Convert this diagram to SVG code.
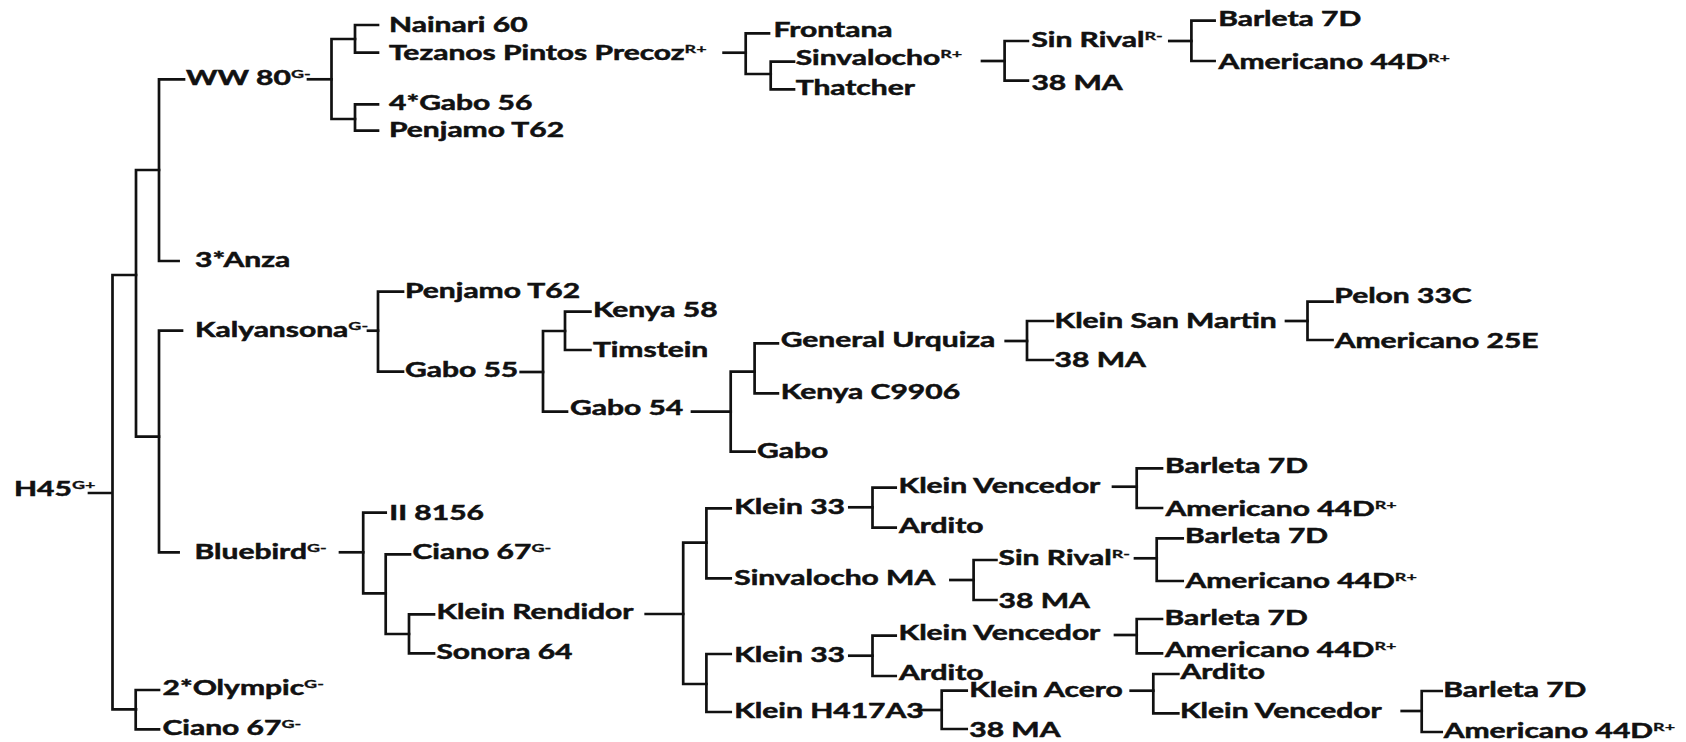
<svg xmlns="http://www.w3.org/2000/svg" width="1686" height="742" viewBox="0 0 1686 742">
<style>
text{font-family:Lato,"Open Sans","Liberation Sans",sans-serif;font-weight:700;font-size:20px;fill:#111;stroke:#111;stroke-width:0.5;transform-box:fill-box;transform-origin:0 0;transform:scaleX(1.5)}
.s{font-size:12px;stroke-width:0.3}
.c path{fill:none;stroke:#111;stroke-width:2.7;stroke-linecap:square}
</style>
<rect width="1686" height="742" fill="#fff"/>
<g class="c" id="connectors">
<path d="M89 493H112.5M136 275H112.5V709.3H136"/>
<path d="M159 170H136V436.7H159"/>
<path d="M184 79.3H159V261H178.6"/>
<path d="M182 330.7H159V552.3H178.6"/>
<path d="M159 690H135.7V729.3H159"/>
<path d="M308 79.3H331.5"/>
<path d="M355 39H331.5V119H355"/>
<path d="M378 25H355V52.7H378"/>
<path d="M378 104.3H355V130.7H378"/>
<path d="M723.6 52.7H745.7"/>
<path d="M769 33.3H745.7V74H770.7"/>
<path d="M794 61.7H770.7V89.3H794"/>
<path d="M982 61H1004.6"/>
<path d="M1027.9 41H1004.6V80.7H1027.9"/>
<path d="M1169.3 41H1191.4"/>
<path d="M1214.6 20.7H1191.4V61H1214.6"/>
<path d="M368 330.7H378"/>
<path d="M403 291.7H378V371.7H403"/>
<path d="M520.7 372H543"/>
<path d="M565 331H543V411.7H567"/>
<path d="M590.4 311.7H565V350H590.4"/>
<path d="M692 411.7H730.7"/>
<path d="M754.6 371.7H730.7V451.7H754.6"/>
<path d="M777.9 343.3H754.6V393.3H777.9"/>
<path d="M1005.7 341H1027"/>
<path d="M1052.9 321H1027V360H1052.9"/>
<path d="M1286 321H1307.5"/>
<path d="M1332.5 301.7H1307.5V340H1332.5"/>
<path d="M340 552.3H363.2"/>
<path d="M385.7 512.7H363.2V593.3H385.7"/>
<path d="M410 554.3H385.7V634H409"/>
<path d="M434 614.3H409V653.3H434"/>
<path d="M645.7 614H683.2"/>
<path d="M706.4 542.7H683.2V684H706.4"/>
<path d="M730.7 508.3H706.4V578.3H730.7"/>
<path d="M849.3 507.3H872.5"/>
<path d="M895.7 487.7H872.5V527.7H895.7"/>
<path d="M1113 486.7H1136.7"/>
<path d="M1162 468.3H1136.7V508H1162"/>
<path d="M950.4 580H973.6"/>
<path d="M996.4 560H973.6V600H996.4"/>
<path d="M1135 558.3H1156.7"/>
<path d="M1182.7 538.3H1156.7V581H1182.7"/>
<path d="M730.7 654H706.4V712H730.7"/>
<path d="M849.3 655.7H872.5"/>
<path d="M895.7 635.7H872.5V676H895.7"/>
<path d="M1115 635H1136.7"/>
<path d="M1162 619H1136.7V653.3H1162"/>
<path d="M918.3 710H941.7"/>
<path d="M966.7 690.7H941.7V729H966.7"/>
<path d="M1130.7 690.7H1153.3"/>
<path d="M1178.3 674H1153.3V713.3H1178.3"/>
<path d="M1401.7 711H1421.7"/>
<path d="M1441.7 691H1421.7V732H1441.7"/>
</g>
<g id="n-h45"><text x="14" y="496">H45<tspan class="s" dy="-7">G+</tspan></text></g>
<g id="n-ww80"><text x="186" y="85">WW 80<tspan class="s" dy="-7">G-</tspan></text></g>
<g id="n-anza"><text x="195" y="267">3*Anza</text></g>
<g id="n-kalyansona"><text x="195" y="336.7">Kalyansona<tspan class="s" dy="-7">G-</tspan></text></g>
<g id="n-bluebird"><text x="194.6" y="559">Bluebird<tspan class="s" dy="-7">G-</tspan></text></g>
<g id="n-olympic"><text x="162.5" y="695">2*Olympic<tspan class="s" dy="-7">G-</tspan></text></g>
<g id="n-ciano67a"><text x="162.5" y="735">Ciano 67<tspan class="s" dy="-7">G-</tspan></text></g>
<g id="n-nainari"><text x="389" y="32.3">Nainari 60</text></g>
<g id="n-tezanos"><text x="389" y="60">Tezanos Pintos Precoz<tspan class="s" dy="-7">R+</tspan></text></g>
<g id="n-gabo56"><text x="389" y="110">4*Gabo 56</text></g>
<g id="n-penjamo1"><text x="389" y="137.3">Penjamo T62</text></g>
<g id="n-frontana"><text x="773.6" y="36.7">Frontana</text></g>
<g id="n-sinvalocho"><text x="795.7" y="65">Sinvalocho<tspan class="s" dy="-7">R+</tspan></text></g>
<g id="n-thatcher"><text x="795.7" y="95">Thatcher</text></g>
<g id="n-sinrival1"><text x="1031.4" y="46.7">Sin Rival<tspan class="s" dy="-7">R-</tspan></text></g>
<g id="n-38ma1"><text x="1031.4" y="90">38 MA</text></g>
<g id="n-barleta1"><text x="1218.2" y="26">Barleta 7D</text></g>
<g id="n-americano1"><text x="1218.2" y="69">Americano 44D<tspan class="s" dy="-7">R+</tspan></text></g>
<g id="n-penjamo2"><text x="405" y="298.3">Penjamo T62</text></g>
<g id="n-gabo55"><text x="405" y="377.3">Gabo 55</text></g>
<g id="n-kenya58"><text x="592.9" y="317.3">Kenya 58</text></g>
<g id="n-timstein"><text x="592.9" y="356.7">Timstein</text></g>
<g id="n-gabo54"><text x="570" y="415">Gabo 54</text></g>
<g id="n-genurquiza"><text x="780.7" y="347.3">General Urquiza</text></g>
<g id="n-kenyac9906"><text x="780.7" y="399.3">Kenya C9906</text></g>
<g id="n-gabo"><text x="757" y="458.3">Gabo</text></g>
<g id="n-kleinsanmartin"><text x="1054.6" y="328">Klein San Martin</text></g>
<g id="n-38ma2"><text x="1054.6" y="367">38 MA</text></g>
<g id="n-pelon"><text x="1334.3" y="303.3">Pelon 33C</text></g>
<g id="n-americano25e"><text x="1334.3" y="347.7">Americano 25E</text></g>
<g id="n-ii8156"><text x="389.3" y="520">II 8156</text></g>
<g id="n-ciano67b"><text x="412.5" y="559.3">Ciano 67<tspan class="s" dy="-7">G-</tspan></text></g>
<g id="n-kleinrendidor"><text x="436.4" y="619.3">Klein Rendidor</text></g>
<g id="n-sonora"><text x="436.4" y="659.3">Sonora 64</text></g>
<g id="n-klein33a"><text x="734.3" y="514">Klein 33</text></g>
<g id="n-sinvalochoma"><text x="734.3" y="585">Sinvalocho MA</text></g>
<g id="n-klein33b"><text x="734.3" y="662.3">Klein 33</text></g>
<g id="n-kleinh417"><text x="734.3" y="718">Klein H417A3</text></g>
<g id="n-vencedor1"><text x="898.6" y="493.3">Klein Vencedor</text></g>
<g id="n-ardito1"><text x="898.6" y="533.3">Ardito</text></g>
<g id="n-sinrival2"><text x="998.6" y="565">Sin Rival<tspan class="s" dy="-7">R-</tspan></text></g>
<g id="n-38ma3"><text x="998.6" y="608.3">38 MA</text></g>
<g id="n-vencedor2"><text x="898.6" y="640">Klein Vencedor</text></g>
<g id="n-ardito2"><text x="898.6" y="680">Ardito</text></g>
<g id="n-kleinacero"><text x="969.3" y="697.3">Klein Acero</text></g>
<g id="n-38ma4"><text x="969.3" y="736.7">38 MA</text></g>
<g id="n-barleta2"><text x="1165" y="473.3">Barleta 7D</text></g>
<g id="n-americano2"><text x="1165" y="516">Americano 44D<tspan class="s" dy="-7">R+</tspan></text></g>
<g id="n-barleta3"><text x="1185" y="543.3">Barleta 7D</text></g>
<g id="n-americano3"><text x="1185" y="587.7">Americano 44D<tspan class="s" dy="-7">R+</tspan></text></g>
<g id="n-barleta4"><text x="1164.6" y="625">Barleta 7D</text></g>
<g id="n-americano4"><text x="1164.6" y="657">Americano 44D<tspan class="s" dy="-7">R+</tspan></text></g>
<g id="n-ardito3"><text x="1180" y="679.3">Ardito</text></g>
<g id="n-vencedor3"><text x="1180" y="718.3">Klein Vencedor</text></g>
<g id="n-barleta5"><text x="1443.3" y="697">Barleta 7D</text></g>
<g id="n-americano5"><text x="1443.3" y="738">Americano 44D<tspan class="s" dy="-7">R+</tspan></text></g>
</svg>
